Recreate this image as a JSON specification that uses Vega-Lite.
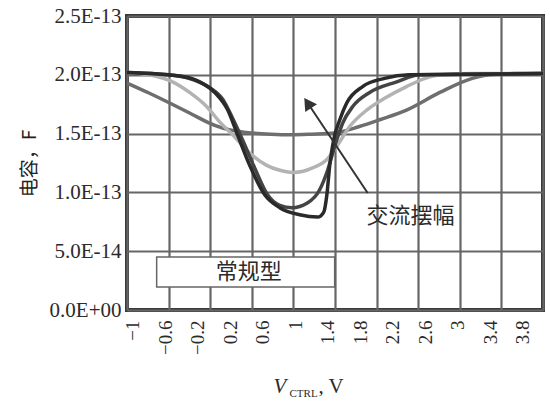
{
  "$schema": "https://vega.github.io/schema/vega-lite/v6.json",
  "width": 416,
  "height": 294,
  "autosize": {"type": "none"},
  "padding": {"left": 127, "top": 16, "right": 7, "bottom": 93},
  "background": "white",
  "config": {
    "view": {"stroke": "#3a3a3a", "strokeWidth": 4},
    "axis": {"labelFont": "Liberation Serif", "titleFont": "Liberation Serif", "labelColor": "#2b2b2b", "titleColor": "#2b2b2b", "titleFontWeight": "normal"}
  },
  "datasets": {
    "curves": [
      {"s": "M", "V": -1.07, "C": 1.93e-13}, {"s": "M", "V": -0.8, "C": 1.845e-13}, {"s": "M", "V": -0.545, "C": 1.76e-13}, {"s": "M", "V": -0.3, "C": 1.675e-13}, {"s": "M", "V": 0.01, "C": 1.57e-13}, {"s": "M", "V": 0.2, "C": 1.53e-13}, {"s": "M", "V": 0.4, "C": 1.51e-13}, {"s": "M", "V": 0.7, "C": 1.495e-13}, {"s": "M", "V": 0.95, "C": 1.49e-13}, {"s": "M", "V": 1.2, "C": 1.495e-13}, {"s": "M", "V": 1.49, "C": 1.505e-13}, {"s": "M", "V": 1.79, "C": 1.56e-13}, {"s": "M", "V": 2.05, "C": 1.62e-13}, {"s": "M", "V": 2.37, "C": 1.7e-13}, {"s": "M", "V": 2.78, "C": 1.85e-13}, {"s": "M", "V": 3.18, "C": 1.97e-13}, {"s": "M", "V": 3.39, "C": 2.0e-13}, {"s": "M", "V": 3.7, "C": 2.01e-13}, {"s": "M", "V": 4.05, "C": 2.01e-13},
      {"s": "L", "V": -1.07, "C": 2.02e-13}, {"s": "L", "V": -0.8, "C": 2.0e-13}, {"s": "L", "V": -0.51, "C": 1.94e-13}, {"s": "L", "V": -0.3, "C": 1.85e-13}, {"s": "L", "V": -0.09, "C": 1.73e-13}, {"s": "L", "V": 0.07, "C": 1.6e-13}, {"s": "L", "V": 0.23, "C": 1.49e-13}, {"s": "L", "V": 0.44, "C": 1.335e-13}, {"s": "L", "V": 0.65, "C": 1.23e-13}, {"s": "L", "V": 0.8, "C": 1.19e-13}, {"s": "L", "V": 0.97, "C": 1.17e-13}, {"s": "L", "V": 1.1, "C": 1.18e-13}, {"s": "L", "V": 1.22, "C": 1.21e-13}, {"s": "L", "V": 1.39, "C": 1.28e-13}, {"s": "L", "V": 1.51, "C": 1.39e-13}, {"s": "L", "V": 1.67, "C": 1.56e-13}, {"s": "L", "V": 1.88, "C": 1.7e-13}, {"s": "L", "V": 2.1, "C": 1.8e-13}, {"s": "L", "V": 2.37, "C": 1.9e-13}, {"s": "L", "V": 2.6, "C": 1.97e-13}, {"s": "L", "V": 2.8, "C": 2.0e-13}, {"s": "L", "V": 3.2, "C": 2.01e-13}, {"s": "L", "V": 4.05, "C": 2.01e-13},
      {"s": "A", "V": -1.07, "C": 2.02e-13}, {"s": "A", "V": -0.545, "C": 2.0e-13}, {"s": "A", "V": -0.26, "C": 1.96e-13}, {"s": "A", "V": -0.05, "C": 1.89e-13}, {"s": "A", "V": 0.11, "C": 1.79e-13}, {"s": "A", "V": 0.23, "C": 1.63e-13}, {"s": "A", "V": 0.35, "C": 1.45e-13}, {"s": "A", "V": 0.5, "C": 1.21e-13}, {"s": "A", "V": 0.66, "C": 0.98e-13}, {"s": "A", "V": 0.81, "C": 0.89e-13}, {"s": "A", "V": 0.96, "C": 0.87e-13}, {"s": "A", "V": 1.15, "C": 0.91e-13}, {"s": "A", "V": 1.3, "C": 1.02e-13}, {"s": "A", "V": 1.4, "C": 1.19e-13}, {"s": "A", "V": 1.49, "C": 1.4e-13}, {"s": "A", "V": 1.585, "C": 1.59e-13}, {"s": "A", "V": 1.708, "C": 1.73e-13}, {"s": "A", "V": 1.917, "C": 1.85e-13}, {"s": "A", "V": 2.25, "C": 1.94e-13}, {"s": "A", "V": 2.53, "C": 2.0e-13}, {"s": "A", "V": 4.05, "C": 2.01e-13},
      {"s": "B", "V": -1.07, "C": 2.02e-13}, {"s": "B", "V": -0.42, "C": 1.99e-13}, {"s": "B", "V": -0.175, "C": 1.94e-13}, {"s": "B", "V": 0.01, "C": 1.85e-13}, {"s": "B", "V": 0.17, "C": 1.7e-13}, {"s": "B", "V": 0.29, "C": 1.49e-13}, {"s": "B", "V": 0.44, "C": 1.23e-13}, {"s": "B", "V": 0.625, "C": 0.98e-13}, {"s": "B", "V": 0.81, "C": 0.87e-13}, {"s": "B", "V": 1.055, "C": 0.81e-13}, {"s": "B", "V": 1.277, "C": 0.79e-13}, {"s": "B", "V": 1.35, "C": 0.83e-13}, {"s": "B", "V": 1.39, "C": 0.98e-13}, {"s": "B", "V": 1.425, "C": 1.23e-13}, {"s": "B", "V": 1.474, "C": 1.45e-13}, {"s": "B", "V": 1.55, "C": 1.62e-13}, {"s": "B", "V": 1.634, "C": 1.76e-13}, {"s": "B", "V": 1.83, "C": 1.9e-13}, {"s": "B", "V": 2.1, "C": 1.97e-13}, {"s": "B", "V": 2.4, "C": 2.0e-13}, {"s": "B", "V": 4.05, "C": 2.01e-13}
    ],
    "box": [{"x1": -0.705, "x2": 1.486, "y1": 0.196e-13, "y2": 0.45e-13, "label": "常规型", "lx": 0.428, "ly": 0.323e-13}],
    "note": [{"V": 2.42, "C": 0.8e-13, "label": "交流摆幅"}],
    "arrow": [{"V": 1.892, "C": 0.995e-13, "V2": 1.154, "C2": 1.76e-13}]
  },
  "layer": [
    {
      "data": {"name": "curves"},
      "mark": {"type": "line", "strokeWidth": 3.5, "interpolate": "monotone"},
      "encoding": {
        "x": {"field": "V", "type": "quantitative", "scale": {"domain": [-1.07, 4.05], "nice": false, "zero": false},
          "axis": {"orient": "bottom", "values": [-1.07, -0.558, -0.046, 0.466, 0.978, 1.49, 2.002, 2.514, 3.026, 3.538, 4.05], "grid": true, "gridColor": "#666666", "gridWidth": 2.2, "labels": false, "ticks": false, "domain": false, "title": null}},
        "y": {"field": "C", "type": "quantitative", "scale": {"domain": [0, 2.5e-13], "nice": false, "zero": false},
          "axis": {"orient": "left", "values": [0, 5e-14, 1e-13, 1.5e-13, 2e-13, 2.5e-13], "grid": true, "gridColor": "#666666", "gridWidth": 2.2, "ticks": false, "domain": false, "labelFlush": false, "labelExpr": "replace(upper(format(datum.value, '.1e')), 'E+0', 'E+00')", "labelFontSize": 21, "labelPadding": 6, "title": "电容，F", "titleFont": "Noto Sans CJK SC", "titleFontSize": 19, "titleColor": "#222222", "titlePadding": 10}},
        "color": {"field": "s", "type": "nominal", "scale": {"domain": ["M", "L", "A", "B"], "range": ["#6e6e6e", "#b3b3b3", "#444444", "#2a2a2a"]}, "legend": null},
        "order": {"field": "s"}
      }
    },
    {
      "data": {"name": "box"},
      "mark": {"type": "rect", "fill": "white", "stroke": "#666666", "strokeWidth": 1.5},
      "encoding": {
        "x": {"field": "x1", "type": "quantitative", "scale": {"domain": [-1.07, 4.05], "nice": false, "zero": false}, "axis": null},
        "x2": {"field": "x2"},
        "y": {"field": "y1", "type": "quantitative", "scale": {"domain": [0, 2.5e-13], "nice": false, "zero": false}, "axis": null},
        "y2": {"field": "y2"}
      }
    },
    {
      "data": {"name": "box"},
      "mark": {"type": "text", "font": "Noto Sans CJK SC", "fontSize": 22, "color": "#2b2b2b", "align": "center", "baseline": "middle"},
      "encoding": {
        "x": {"field": "lx", "type": "quantitative", "scale": {"domain": [-1.07, 4.05], "nice": false, "zero": false},
          "axis": {"orient": "bottom", "values": [-1, -0.6, -0.2, 0.2, 0.6, 1, 1.4, 1.8, 2.2, 2.6, 3, 3.4, 3.8], "format": ".1~f", "labelAngle": -90, "labelFontSize": 19, "labelPadding": 10, "labelFlush": false, "grid": false, "ticks": false, "domain": false,
            "title": "V", "titleFontStyle": "italic", "titleFontSize": 21, "titleX": 146, "titleY": 82, "titleAlign": "left", "titleBaseline": "alphabetic"}},
        "y": {"field": "ly", "type": "quantitative", "scale": {"domain": [0, 2.5e-13], "nice": false, "zero": false}, "axis": null},
        "text": {"field": "label"}
      }
    },
    {
      "data": {"name": "note"},
      "mark": {"type": "text", "font": "Noto Sans CJK SC", "fontSize": 22, "color": "#2b2b2b", "align": "center", "baseline": "middle"},
      "encoding": {
        "x": {"field": "V", "type": "quantitative", "scale": {"domain": [-1.07, 4.05], "nice": false, "zero": false},
          "axis": {"orient": "bottom", "labels": false, "ticks": false, "domain": false, "grid": false, "title": "CTRL", "titleFontSize": 11, "titleX": 162, "titleY": 86, "titleAlign": "left", "titleBaseline": "alphabetic"}},
        "y": {"field": "C", "type": "quantitative", "scale": {"domain": [0, 2.5e-13], "nice": false, "zero": false}, "axis": null},
        "text": {"field": "label"}
      }
    },
    {
      "data": {"name": "arrow"},
      "mark": {"type": "rule", "strokeWidth": 2, "color": "#333333"},
      "encoding": {
        "x": {"field": "V", "type": "quantitative", "scale": {"domain": [-1.07, 4.05], "nice": false, "zero": false},
          "axis": {"orient": "bottom", "labels": false, "ticks": false, "domain": false, "grid": false, "title": ", V", "titleFontSize": 21, "titleX": 191, "titleY": 82, "titleAlign": "left", "titleBaseline": "alphabetic"}},
        "x2": {"field": "V2"},
        "y": {"field": "C", "type": "quantitative", "scale": {"domain": [0, 2.5e-13], "nice": false, "zero": false}, "axis": null},
        "y2": {"field": "C2"}
      }
    },
    {
      "data": {"name": "arrow"},
      "mark": {"type": "point", "shape": "triangle-up", "filled": true, "size": 200, "angle": -34, "color": "#333333", "opacity": 1},
      "encoding": {
        "x": {"field": "V2", "type": "quantitative", "scale": {"domain": [-1.07, 4.05], "nice": false, "zero": false}, "axis": null},
        "y": {"field": "C2", "type": "quantitative", "scale": {"domain": [0, 2.5e-13], "nice": false, "zero": false}, "axis": null}
      }
    }
  ],
  "resolve": {"axis": {"x": "independent", "y": "independent"}}
}
